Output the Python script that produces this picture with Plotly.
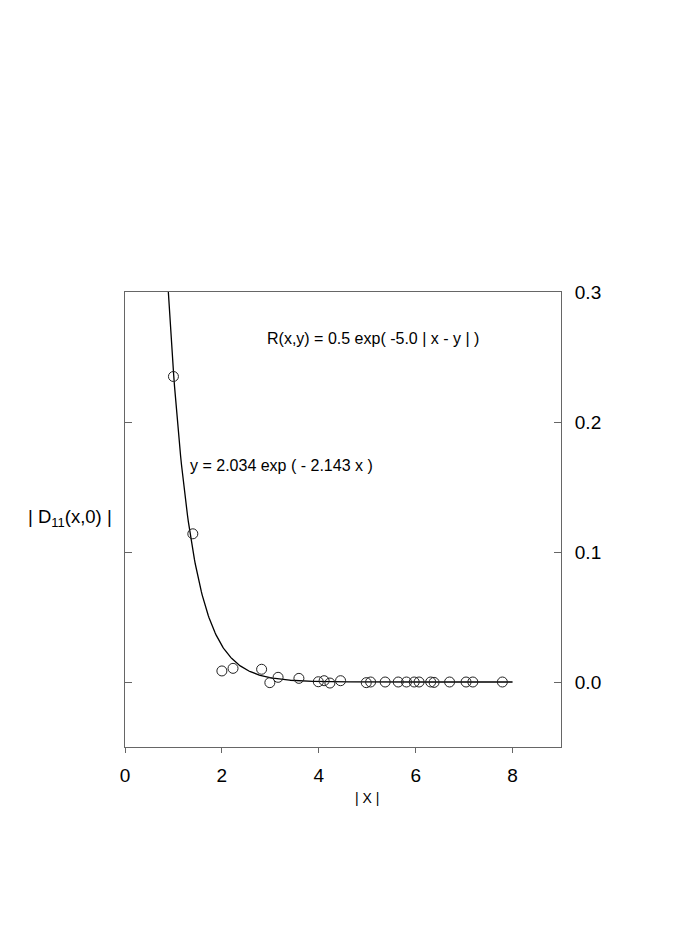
import numpy as np
import plotly.graph_objects as go

# Observed points |D11(x,0)| vs |x|
x_obs = [1.00, 1.40, 2.00, 2.23, 2.82, 2.99, 3.16, 3.59, 3.99, 4.11, 4.23, 4.45,
         4.98, 5.07, 5.37, 5.64, 5.81, 5.97, 6.07, 6.31, 6.38, 6.70, 7.04, 7.18, 7.79]
y_obs = [0.235, 0.114, 0.0085, 0.0105, 0.0098, -0.0005, 0.0036, 0.0028, 0.0002, 0.001,
         -0.0008, 0.001, -0.0005, 0.0, 0.0, 0.0, 0.0, 0.0, 0.0, 0.0, -0.0003, 0.0, 0.0, 0.0, 0.0]

# Fitted curve parameters (from the annotation)
fit_a = 2.034
fit_b = 2.143
fit_x_start = 0.88
fit_x_end = 8.0

x_ticks = [0, 2, 4, 6, 8]
y_ticks = [0.0, 0.1, 0.2, 0.3]
y_ticktext = ["0.0", "0.1", "0.2", "0.3"]

xf = np.linspace(fit_x_start, fit_x_end, 400)
yf = fit_a * np.exp(-fit_b * xf)

fig = go.Figure()
fig.add_trace(go.Scatter(x=xf, y=yf, mode="lines",
                         line=dict(color="black", width=1.3), showlegend=False))
fig.add_trace(go.Scatter(x=x_obs, y=y_obs, mode="markers",
                         marker=dict(symbol="circle-open", size=10,
                                     color="#222", line=dict(width=1)),
                         showlegend=False))
# invisible trace for left axis ticks
fig.add_trace(go.Scatter(x=[None], y=[None], yaxis="y2", showlegend=False))

font = "Liberation Sans, Arial, sans-serif"
fig.update_layout(
    width=692, height=934,
    margin=dict(l=117, r=139, t=284, b=195),
    paper_bgcolor="white", plot_bgcolor="white",
    font=dict(family=font, color="black"),
    xaxis=dict(range=[0, 9], tickvals=x_ticks, ticks="outside", ticklen=5,
               tickcolor="#666", showline=True, linecolor="#666", linewidth=1,
               mirror=True, showgrid=False, zeroline=False,
               ticklabelstandoff=6,
               tickfont=dict(size=19, family=font)),
    yaxis=dict(range=[-0.05, 0.3], tickvals=y_ticks, ticktext=y_ticktext,
               side="right", ticks="inside", ticklen=7, tickcolor="#666",
               showline=True, linecolor="#666", linewidth=1, mirror=True,
               ticklabelstandoff=9,
               showgrid=False, zeroline=False, tickfont=dict(size=19, family=font)),
    yaxis2=dict(range=[-0.05, 0.3], tickvals=[0.0, 0.1, 0.2], overlaying="y",
                side="left", ticks="inside", ticklen=7, tickcolor="#666",
                showticklabels=False, showline=False, showgrid=False, zeroline=False),
    annotations=[
        dict(text="R(x,y) = 0.5 exp( -5.0 | x - y | )", x=0.569, y=0.897,
             xref="paper", yref="paper", showarrow=False,
             xanchor="center", yanchor="middle",
             font=dict(size=16, family=font)),
        dict(text="y = 2.034 exp ( - 2.143 x )", x=0.1445, y=0.618,
             xref="paper", yref="paper", showarrow=False,
             xanchor="left", yanchor="middle",
             font=dict(size=16, family=font)),
        dict(text="| D<sub>11</sub>(x,0) |", x=-0.127, y=0.503,
             xref="paper", yref="paper", showarrow=False,
             xanchor="center", yanchor="middle",
             font=dict(size=18.5, family=font)),
        dict(text="| X |", x=0.554, y=-0.112,
             xref="paper", yref="paper", showarrow=False,
             xanchor="center", yanchor="middle",
             font=dict(size=14, family=font)),
    ],
)
fig.write_html("out.html")
